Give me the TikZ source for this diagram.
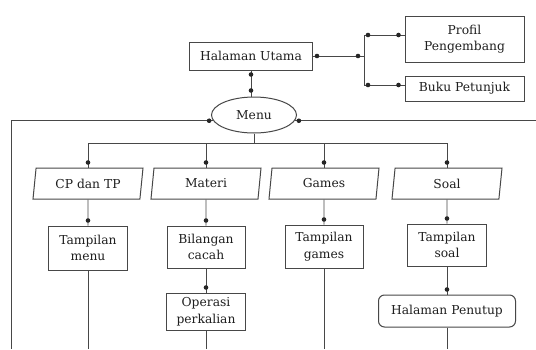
\documentclass[tikz,border=0pt]{standalone}
\usepackage{fontspec}
\setmainfont{DejaVu Serif}
\usetikzlibrary{shapes.geometric,decorations.markings}
\begin{document}
\begin{tikzpicture}[x=1pt,y=-1pt,
  lc/.style={draw=black!72,line width=0.9pt},
  txt/.style={font=\fontsize{12.3}{16.5}\selectfont,text=black!88,align=center,inner sep=0pt},
  box/.style={txt,lc,rectangle,line width=1pt},
  para/.style={txt,lc,line width=1pt,trapezium,trapezium left angle=72,trapezium right angle=108,
    trapezium stretches body,minimum height=31pt,minimum width=110pt},
  conn/.style={lc},
  startdot/.style={conn,postaction={decorate,decoration={markings,mark=at position 4pt with {\fill[black!85] circle (2.3pt);}}}},
  enddot/.style={conn,postaction={decorate,decoration={markings,mark=at position -5pt with {\fill[black!85] circle (2.3pt);}}}},
  bothdots/.style={conn,postaction={decorate,decoration={markings,
    mark=at position 4pt with {\fill[black!85] circle (2.3pt);},
    mark=at position -6pt with {\fill[black!85] circle (2.3pt);}}}}
]
\fill[white] (0,0) rectangle (536,349);
\useasboundingbox (0,0) rectangle (536,349);

\node[box,minimum width=123pt,minimum height=28pt] (hu) at (251,56) {Halaman Utama};
\node[box,minimum width=119pt,minimum height=46pt] (pp) at (464.5,39) {Profil\\Pengembang};
\node[box,minimum width=119pt,minimum height=25pt] (bp) at (464.5,88.5) {Buku Petunjuk};
\node[txt,lc,line width=1pt,ellipse,minimum width=85pt,minimum height=36pt] (menu) at (254,115) {Menu};

\node[para] (cp) at (88,183.5) {CP dan TP};
\node[para] (mat) at (206,183.5) {Materi};
\node[para] (gam) at (324,183.5) {Games};
\node[para] (soal) at (447,183.5) {Soal};

\node[box,minimum width=79pt,minimum height=44pt] (tm) at (88,248) {Tampilan\\menu};
\node[box,minimum width=78pt,minimum height=42pt] (bc) at (206,247) {Bilangan\\cacah};
\node[box,minimum width=78pt,minimum height=43pt] (tg) at (324,246.5) {Tampilan\\games};
\node[box,minimum width=79pt,minimum height=42pt] (ts) at (447,245) {Tampilan\\soal};
\node[box,minimum width=79pt,minimum height=37pt] (op) at (206,311.5) {Operasi\\perkalian};
\node[box,rounded corners=6pt,minimum width=137pt,minimum height=32pt] (hp) at (447,311) {Halaman Penutup};

\coordinate (jt) at (364,35);
\coordinate (jb) at (364,85);
\coordinate (lft) at (11,349);
\coordinate (rgt) at (536,120);
\coordinate (bus) at (0,143);
\coordinate (bot) at (0,349);

% top part
\draw[bothdots] (hu.east) -- (hu.east -| jt);
\draw[conn] (jt) -- (jb);
\draw[bothdots] (jt) -- (jt -| pp.west);
\draw[bothdots] (jb) -- (jb -| bp.west);
\draw[bothdots] (hu.south) -- (hu.south |- menu.north);

% menu side lines
\draw[startdot] (menu.188) -| (lft);
\draw[startdot] (menu.352) -- (menu.352 -| rgt);

% bus
\draw[conn] (menu.south) -- (menu.south |- bus);
\draw[conn] (cp.north |- bus) -- (soal.north |- bus);
\draw[enddot] (cp.north |- bus) -- (cp.north);
\draw[enddot] (mat.north |- bus) -- (mat.north);
\draw[enddot] (gam.north |- bus) -- (gam.north);
\draw[enddot] (soal.north |- bus) -- (soal.north);

% to second row
\draw[enddot] (cp.south) -- (tm.north);
\draw[enddot] (mat.south) -- (bc.north);
\draw[enddot] (gam.south) -- (tg.north);
\draw[enddot] (soal.south) -- (ts.north);
\draw[enddot] (bc.south) -- (op.north);
\draw[enddot] (ts.south) -- (hp.north);

% down to bottom edge
\draw[conn] (tm.south) -- (tm.south |- bot);
\draw[conn] (op.south) -- (op.south |- bot);
\draw[conn] (tg.south) -- (tg.south |- bot);
\draw[conn] (hp.south) -- (hp.south |- bot);
\end{tikzpicture}
\end{document}
